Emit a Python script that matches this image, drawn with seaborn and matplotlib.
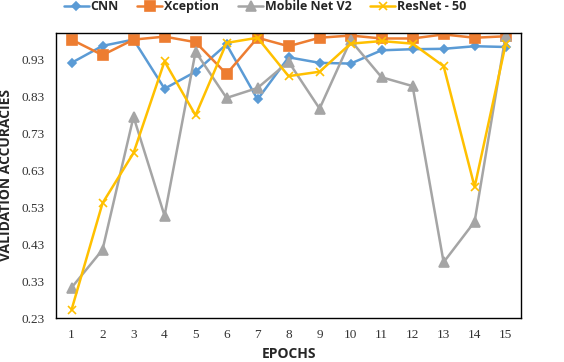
import pandas as pd
import seaborn as sns
import matplotlib.pyplot as plt
import numpy as np

# Validation accuracies
epochs = list(range(1, 16))
cnn = [0.921, 0.967, 0.984, 0.851, 0.897, 0.971, 0.822, 0.936, 0.921, 0.919,
       0.955, 0.958, 0.959, 0.966, 0.964]
xception = [0.984, 0.942, 0.984, 0.992, 0.977, 0.891, 0.989, 0.966, 0.989, 0.995,
            0.987, 0.987, 0.998, 0.989, 0.993]
mobilenet = [0.312, 0.415, 0.775, 0.507, 0.951, 0.826, 0.853, 0.924, 0.797, 0.982,
             0.882, 0.858, 0.381, 0.491, 0.995]
resnet = [0.252, 0.541, 0.677, 0.925, 0.779, 0.975, 0.989, 0.885, 0.897, 0.973,
          0.980, 0.973, 0.912, 0.585, 0.971]
models = ['CNN', 'Xception', 'Mobile Net V2', 'ResNet - 50']
y_ticks = [0.23, 0.33, 0.43, 0.53, 0.63, 0.73, 0.83, 0.93]

df = pd.DataFrame({
    'epoch': epochs * 4,
    'acc': cnn + xception + mobilenet + resnet,
    'model': np.repeat(models, len(epochs)),
})

sns.set_style('white')
palette = {'CNN': '#5B9BD5', 'Xception': '#ED7D31',
           'Mobile Net V2': '#A5A5A5', 'ResNet - 50': '#FFC000'}
markers = {'CNN': 'D', 'Xception': 's', 'Mobile Net V2': '^', 'ResNet - 50': 'x'}
sizes = {'CNN': 4.5, 'Xception': 6.5, 'Mobile Net V2': 6.5, 'ResNet - 50': 5.5}

fig = plt.figure(figsize=(5.64, 3.62), dpi=100)
ax = fig.add_axes([0.0993, 0.1215, 0.8247, 0.7875])

for m in models:
    sns.lineplot(data=df[df['model'] == m], x='epoch', y='acc', ax=ax,
                 color=palette[m], marker=markers[m], markersize=sizes[m],
                 markeredgecolor=palette[m], markeredgewidth=1.2,
                 linewidth=1.8, label=m, legend=False)

ax.set_xlim(0.5, 15.5)
ax.set_ylim(0.23, 1.002)
ax.set_xticks(epochs)
ax.set_xticks(np.arange(1.5, 15, 1), minor=True)
ax.set_yticks(y_ticks)
ax.set_yticklabels([f'{v:.2f}' for v in y_ticks])
ax.tick_params(axis='x', which='major', length=0, pad=8)
ax.tick_params(axis='x', which='minor', length=4, width=1, direction='out', color='black')
ax.tick_params(axis='y', length=0, pad=8)
for lbl in ax.get_xticklabels() + ax.get_yticklabels():
    lbl.set_family('Liberation Serif')
    lbl.set_fontsize(9.5)
    lbl.set_color('#333333')

for s in ax.spines.values():
    s.set_color('black')
    s.set_linewidth(1)

ax.set_xlabel('EPOCHS', fontsize=10, fontweight='bold', family='Open Sans', labelpad=4)
ax.set_ylabel('VALIDATION ACCURACIES', fontsize=10, fontweight='bold', family='Open Sans', labelpad=6)

handles, labels = ax.get_legend_handles_labels()
fig.legend(handles, labels, loc='upper center', bbox_to_anchor=(0.47, 1.03), ncol=4,
           frameon=False, prop={'family': 'Open Sans', 'weight': 'bold', 'size': 9},
           handlelength=2.0, columnspacing=1.5, handletextpad=0.15)

fig.savefig('out.png', dpi=100)
